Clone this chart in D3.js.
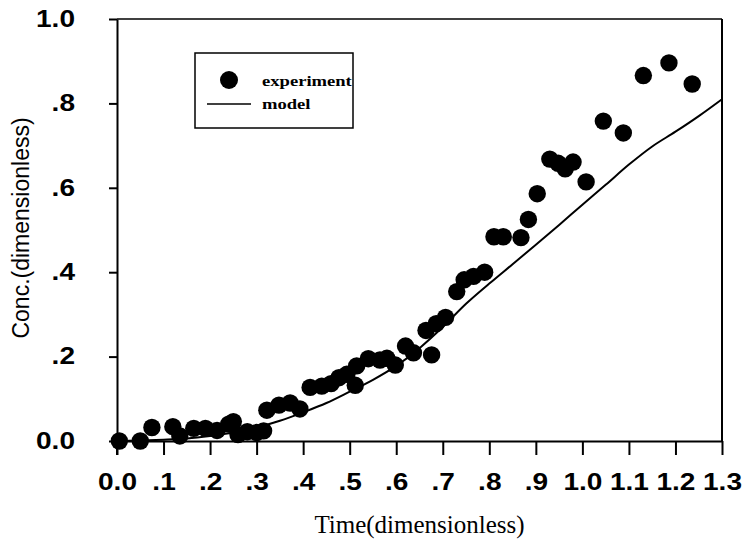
<!DOCTYPE html>
<html>
<head>
<meta charset="utf-8">
<script src="https://cdn.jsdelivr.net/npm/d3@7"></script>
<style>
  html, body { margin: 0; padding: 0; background: #fff; }
  svg { display: block; }
</style>
</head>
<body>
<svg id="chart" width="744" height="541"></svg>
<script>
// ---- data ----
const xTickValues = [0,0.1,0.2,0.3,0.4,0.5,0.6,0.7,0.8,0.9,1.0,1.1,1.2,1.3];
const xTickLabels = ["0.0",".1",".2",".3",".4",".5",".6",".7",".8",".9","1.0","1.1","1.2","1.3"];
const yTickValues = [0,0.2,0.4,0.6,0.8,1.0];
const yTickLabels = ["0.0",".2",".4",".6",".8","1.0"];

const expTime = [0.005,0.05,0.075,0.12,0.135,0.165,0.19,0.215,0.24,0.25,0.26,0.28,0.30,0.315,
  0.322,0.348,0.372,0.393,0.415,0.44,0.46,0.477,0.494,0.512,0.515,0.54,0.565,0.58,0.598,
  0.62,0.637,0.664,0.676,0.686,0.706,0.73,0.746,0.766,0.79,0.81,0.83,0.868,0.884,0.903,
  0.93,0.948,0.963,0.98,1.008,1.045,1.088,1.131,1.186,1.236];
const expConc = [0.0,0.0,0.032,0.034,0.012,0.03,0.03,0.025,0.04,0.046,0.015,0.022,0.02,0.024,
  0.073,0.085,0.09,0.076,0.127,0.13,0.136,0.15,0.158,0.132,0.178,0.195,0.192,0.196,0.18,
  0.225,0.209,0.262,0.204,0.278,0.293,0.354,0.382,0.39,0.4,0.484,0.484,0.482,0.525,0.586,
  0.668,0.658,0.645,0.661,0.614,0.758,0.73,0.866,0.896,0.846];

const modelTime = [0,0.05,0.1,0.15,0.2,0.25,0.3,0.35,0.4,0.45,0.5,0.55,0.6,0.65,0.7,0.75,
  0.8,0.85,0.9,0.95,1.0,1.05,1.1,1.15,1.2,1.25,1.3];
const modelConc = [0,0.001,0.003,0.006,0.012,0.02,0.032,0.048,0.068,0.09,0.117,0.145,0.178,
  0.22,0.27,0.325,0.373,0.419,0.465,0.512,0.56,0.607,0.655,0.698,0.733,0.77,0.81];

const seriesNames = ["experiment","model"];
const xTitle = "Time(dimensionless)";
const yTitle = "Conc.(dimensionless)";

// ---- layout ----
const L = 117, R = 722, T = 19, B = 441;
const SX = 1.22; // horizontal stretch of the scanned lettering

const svg = d3.select("#chart");
const x = d3.scaleLinear().domain([0, 1.3]).range([L, R]);
const y = d3.scaleLinear().domain([0, 1.0]).range([B, T]);

// frame (top and right)
svg.append("line").attr("x1", L).attr("x2", R).attr("y1", T).attr("y2", T)
  .attr("stroke", "#000").attr("stroke-width", 1.5);
svg.append("line").attr("x1", R).attr("x2", R).attr("y1", T).attr("y2", B)
  .attr("stroke", "#000").attr("stroke-width", 2);

// x axis
const xAxis = svg.append("g").attr("transform", `translate(0,${B})`)
  .call(d3.axisBottom(x).tickValues(xTickValues)
    .tickFormat((d, i) => xTickLabels[i]).tickSize(14).tickSizeOuter(0).tickPadding(19));
xAxis.select(".domain").attr("stroke-width", 2);
xAxis.selectAll(".tick line").attr("stroke-width", 2);
xAxis.selectAll(".tick text")
  .attr("font-family", "'Liberation Sans', Arial, sans-serif")
  .attr("font-size", 23).attr("font-weight", "bold").attr("fill", "#000")
  .attr("transform", `scale(${SX},1)`);

// y axis
const yPad = 42;
const yAxis = svg.append("g").attr("transform", `translate(${L},0)`)
  .call(d3.axisLeft(y).tickValues(yTickValues)
    .tickFormat((d, i) => yTickLabels[i]).tickSize(8).tickSizeOuter(0).tickPadding(0));
yAxis.select(".domain").attr("stroke-width", 2);
yAxis.selectAll(".tick line").attr("stroke-width", 2);
yAxis.selectAll(".tick text")
  .attr("x", -yPad / SX)
  .attr("font-family", "'Liberation Sans', Arial, sans-serif")
  .attr("font-size", 23).attr("font-weight", "bold").attr("fill", "#000")
  .attr("transform", `scale(${SX},1)`);
// axis origin tick going below
svg.append("line").attr("x1", L).attr("x2", L).attr("y1", B).attr("y2", B + 14)
  .attr("stroke", "#000").attr("stroke-width", 2);

// model line
const modelData = modelTime.map((t, i) => [t, modelConc[i]]);
svg.append("path").datum(modelData)
  .attr("fill", "none").attr("stroke", "#000").attr("stroke-width", 2)
  .attr("d", d3.line().x(d => x(d[0])).y(d => y(d[1])).curve(d3.curveMonotoneX));

// experiment points
const expData = expTime.map((t, i) => [t, expConc[i]]);
svg.append("g").selectAll("circle").data(expData).join("circle")
  .attr("cx", d => x(d[0])).attr("cy", d => y(d[1])).attr("r", 8.7).attr("fill", "#000");

// legend
const lg = svg.append("g");
lg.append("rect").attr("x", 195).attr("y", 53).attr("width", 158).attr("height", 75)
  .attr("fill", "#fff").attr("stroke", "#000").attr("stroke-width", 1.5);
lg.append("circle").attr("cx", 229).attr("cy", 80).attr("r", 9).attr("fill", "#000");
lg.append("line").attr("x1", 207).attr("x2", 251).attr("y1", 104).attr("y2", 104)
  .attr("stroke", "#000").attr("stroke-width", 1.5);
[[seriesNames[0], 86], [seriesNames[1], 109]].forEach(([t, yy]) => {
  lg.append("g").attr("transform", `translate(262,${yy}) scale(1.2,1)`)
    .append("text").text(t)
    .attr("font-family", "'Liberation Serif', 'Times New Roman', serif")
    .attr("font-size", 15.5).attr("font-weight", "bold").attr("fill", "#000");
});

// titles
svg.append("g").attr("transform", `translate(${(L + R) / 2},533)`)
  .append("text").text(xTitle).attr("text-anchor", "middle")
  .attr("font-family", "'Liberation Serif', 'Times New Roman', serif")
  .attr("font-size", 25).attr("fill", "#000");
svg.append("g").attr("transform", `translate(29,228) rotate(-90)`)
  .append("text").text(yTitle).attr("text-anchor", "middle")
  .attr("font-family", "'Liberation Sans', Arial, sans-serif")
  .attr("font-size", 23).attr("fill", "#000");
</script>
</body>
</html>
